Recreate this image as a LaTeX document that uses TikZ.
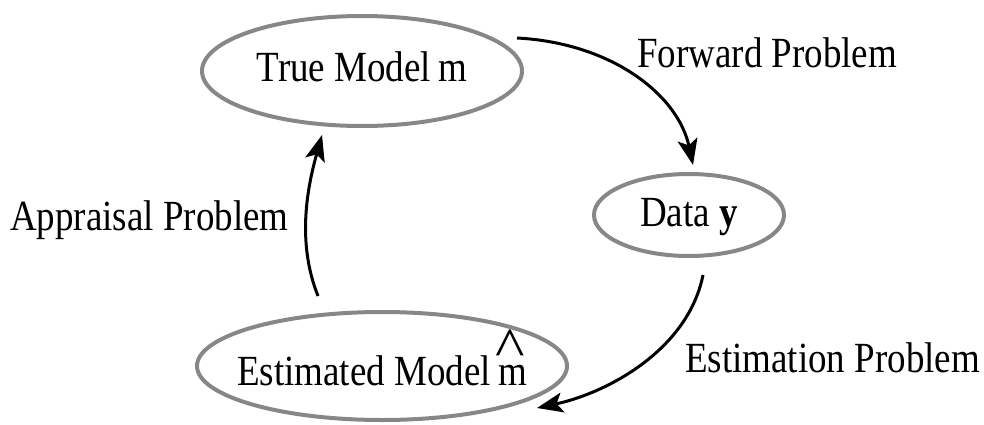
\documentclass[tikz,border=0pt]{standalone}
\usepackage{fontspec}
\setmainfont[FakeStretch=0.86]{Liberation Serif}
\usetikzlibrary{shapes.geometric,arrows.meta,calc}
\newcommand{\hatmchar}{\leavevmode\ooalign{m\cr\hidewidth\raisebox{0.42em}{\scalebox{1.7}[1.3]{\textasciicircum}}\hspace{5pt}\hidewidth\cr}}
\begin{document}
\begin{tikzpicture}[x=1pt,y=-1pt,
  modelnode/.style={ellipse,draw=black!47,line width=4pt,inner ysep=0pt,inner xsep=-20pt,
    font=\fontsize{43}{50}\selectfont,text height=26pt,text depth=4pt},
  lbl/.style={font=\fontsize{43}{50}\selectfont,anchor=base west,inner sep=0pt},
  conn/.style={line width=3pt,-{Stealth[length=26pt,width=20pt,inset=6pt]}}]
\useasboundingbox (0,0) rectangle (984,425);
\node[modelnode,minimum width=320pt,minimum height=110pt] (true) at (362,71) {True Model\,m};
\node[modelnode,minimum width=190pt,minimum height=82pt] (data) at (689,215) {Data \textbf{y}};
\node[modelnode,minimum width=370pt,minimum height=108pt,text height=42pt,text depth=4pt] (est) at (382,366) {Estimated Model\,\hatmchar};
\node[lbl] (fwdl) at (637,68) {Forward Problem};
\node[lbl] (appl) at (10,230) {Appraisal Problem};
\node[lbl] (estl) at (685,372) {Estimation Problem};
\coordinate (fs) at ($(true.center)+(155,-33)$);
\coordinate (fe) at ($(data.north)+(4,-7)$);
\coordinate (es) at ($(data.center)+(14,60)$);
\coordinate (ee) at ($(est.center)+(155,42)$);
\coordinate (as) at ($(est.center)+(-64,-70)$);
\coordinate (ae) at ($(true.center)+(-40,64)$);
\draw[conn] (fs) .. controls ($(fs)+(95,5)$) and ($(fe)+(-15,-70)$) .. (fe);
\draw[conn] (es) .. controls ($(es)+(-15,75)$) and ($(ee)+(70,-15)$) .. (ee);
\draw[conn] (as) .. controls ($(as)+(-22,-55)$) and ($(ae)+(-14,50)$) .. (ae);
\end{tikzpicture}
\end{document}
